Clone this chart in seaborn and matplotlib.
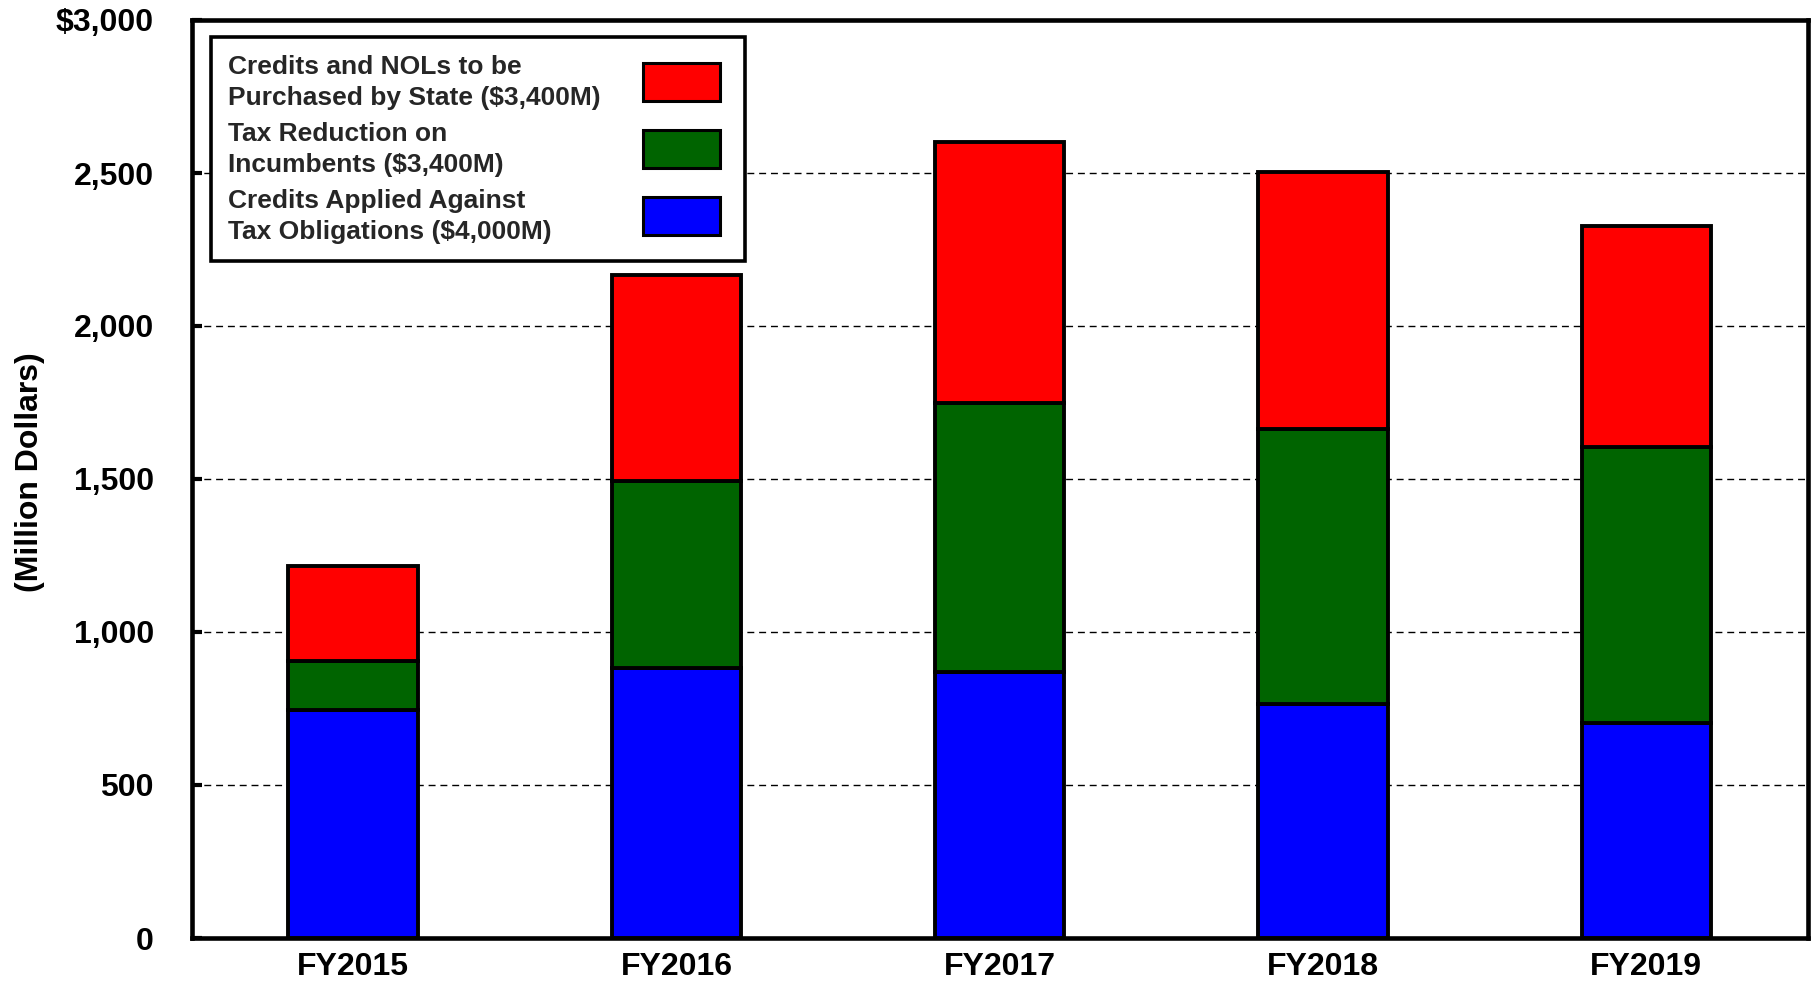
import matplotlib
matplotlib.use("Agg")
import matplotlib.pyplot as plt
from matplotlib.patches import Patch, Rectangle
from matplotlib.legend_handler import HandlerPatch
import seaborn as sns

# Fiscal years on the category axis
years = ["FY2015", "FY2016", "FY2017", "FY2018", "FY2019"]

# Annual amounts per component (million dollars), stacked bottom to top
credits_applied = [744, 883, 870, 764, 704]
tax_reduction = [160, 610, 878, 898, 899]
credits_purchased = [312, 674, 852, 842, 724]

# Series labels and fills
series_labels = [
    "Credits and NOLs to be\nPurchased by State ($3,400M)",
    "Tax Reduction on\nIncumbents ($3,400M)",
    "Credits Applied Against\nTax Obligations ($4,000M)",
]
series_colors = ["#FF0000", "#006400", "#0000FF"]

# Value axis ticks and their labels
ytick_values = [0, 500, 1000, 1500, 2000, 2500, 3000]
ytick_labels = ["0", "500", "1,000", "1,500", "2,000", "2,500", "$3,000"]

sns.set_style("white")
plt.rcParams["font.family"] = ["Liberation Sans", "DejaVu Sans"]
plt.rcParams["font.weight"] = "bold"
plt.rcParams["axes.labelweight"] = "bold"

W, H = 1820, 982
DPI = 100
fig = plt.figure(figsize=(W / DPI, H / DPI), dpi=DPI)
left, right, top, bottom = 191.5, 1808, 20, 938
ax = fig.add_axes([left / W, 1 - bottom / H, (right - left) / W, (bottom - top) / H])

bar_kw = dict(width=0.4, edgecolor="black", linewidth=2.8, saturation=1,
              errorbar=None, ax=ax, zorder=3)

# Stack: blue at the base, green on top of it, red on top of both
base_green = list(credits_applied)
base_red = [a + b for a, b in zip(credits_applied, tax_reduction)]

sns.barplot(x=years, y=credits_applied, color=series_colors[2], **bar_kw)
sns.barplot(x=years, y=tax_reduction, color=series_colors[1], bottom=base_green, **bar_kw)
sns.barplot(x=years, y=credits_purchased, color=series_colors[0], bottom=base_red, **bar_kw)

ax.set_xlim(-0.5, 4.5)
ax.set_ylim(0, 3000)
ax.set_yticks(ytick_values)
ax.set_yticklabels(ytick_labels)

# Dashed horizontal gridlines behind the bars
ax.set_axisbelow(True)
ax.yaxis.grid(True, color="black", linestyle=(0, (5, 3.5)), linewidth=1.0)
ax.xaxis.grid(False)

for s in ax.spines.values():
    s.set_visible(True)
    s.set_color("black")
    s.set_linewidth(3.3)

ax.tick_params(axis="y", direction="in", length=7, width=3, pad=27,
               labelsize=23, colors="black", left=True)
ax.tick_params(axis="x", length=0, pad=10, labelsize=23, colors="black")
for lab in ax.get_xticklabels() + ax.get_yticklabels():
    lab.set_fontweight("bold")

ax.set_xlabel("")
ax.set_ylabel("(Million Dollars)", fontsize=23, fontweight="bold", color="black")
ax.yaxis.set_label_coords(-0.0905, 0.5076)

LEG_FS = 19
TEXT_PAD = 1.59
SWATCH_GAP = 5.0  # points of blank space right of each swatch


def swatch(legend, orig_handle, xdescent, ydescent, width, height, fontsize):
    return Rectangle((-xdescent, -ydescent), width - SWATCH_GAP, height)


handles = [Patch(facecolor=c, edgecolor="black", linewidth=2.2) for c in series_colors]
leg = ax.legend(
    handles, series_labels,
    loc="upper left", bbox_to_anchor=(0.012, 0.981), borderaxespad=0,
    markerfirst=False, fontsize=LEG_FS, frameon=True, fancybox=False,
    framealpha=1, edgecolor="black", borderpad=0.65,
    handlelength=2.95 + SWATCH_GAP / LEG_FS, handleheight=1.84,
    handletextpad=TEXT_PAD, labelspacing=0.45,
    handler_map={Patch: HandlerPatch(patch_func=swatch)},
)
leg.get_frame().set_linewidth(2.6)
for t in leg.get_texts():
    t.set_fontweight("bold")
    t.set_linespacing(1.38)

# Left-align the labels and keep the swatches in one column on the right
fig.canvas.draw()
renderer = fig.canvas.get_renderer()
widths = [t.get_window_extent(renderer).width for t in leg.get_texts()]
max_w = max(widths)
rows = []
for col in leg._legend_handle_box.get_children():
    col.align = "left"
    rows.extend(col.get_children())
for row, w in zip(rows, widths):
    row.align = "center"
    row.sep = TEXT_PAD * LEG_FS + (max_w - w) * 72.0 / DPI

fig.savefig("out.png", dpi=DPI)
